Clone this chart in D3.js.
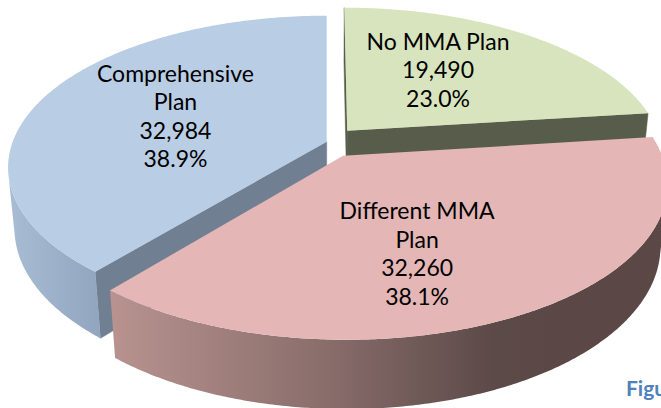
<!DOCTYPE html>
<meta charset="utf-8">
<style>
  body { margin: 0; background: #fff; }
  svg { display: block; }
  .label { font-family: Lato, "Open Sans", sans-serif; font-size: 23px; fill: #000; text-anchor: middle; }
  .caption { font-family: Lato, sans-serif; font-weight: bold; font-size: 21px; fill: #4f81bd; }
</style>
<script src="https://d3js.org/d3.v7.min.js"></script>
<body>
<script>
  // data
  var categories = ["No MMA Plan", "Different MMA Plan", "Comprehensive Plan"];
  var labelLines = [["No MMA Plan"], ["Different MMA", "Plan"], ["Comprehensive", "Plan"]];
  var values = [19490, 32260, 32984];

  // look of the 3d pie
  var explode = [0.1, 0.107, 0];
  var topColors = ["#d7e4bd", "#e4b6b5", "#b9cde4"];
  var cutColors = ["#585c4a", "#5c4a49", "#707f91"];
  // label shift from the face centroid, px
  var labelNudge = [[-27, 4], [-1, 20], [7, -8]];

  var W = 661, H = 408;
  var cx = 326.7, cy = 141.7;
  var tilt = 28 * Math.PI / 180, sinE = Math.sin(tilt), cosE = Math.cos(tilt);
  var dist = 5.2, depth = 0.223;
  var r = d3.scaleLinear().domain([0, 1]).range([0, 314]);

  var svg = d3.select("body").append("svg").attr("width", W).attr("height", H);
  var defs = svg.append("defs");

  function grad(id, x1, x2, stops) {
    var g = defs.append("linearGradient").attr("id", id)
      .attr("gradientUnits", "userSpaceOnUse")
      .attr("x1", x1).attr("x2", x2).attr("y1", 0).attr("y2", 0);
    stops.forEach(function(s) { g.append("stop").attr("offset", s[0]).attr("stop-color", s[1]); });
  }
  grad("side0", 330, 660, [[0, "#9aa383"], [1, "#585c4a"]]);
  grad("side1", 110, 560, [[0, "#b8938f"], [0.45, "#8c706e"], [0.85, "#5c4a48"], [1, "#5a4746"]]);
  grad("side2", 8, 110, [[0, "#a8bcd4"], [1, "#8fa3bc"]]);

  function proj(X, Y, Z) {
    var yp = Y * cosE + Z * sinE, zp = Z * cosE - Y * sinE, s = dist / (dist + zp);
    return [cx + r(X * s), cy - r(yp * s)];
  }
  var cam = [0, dist * sinE, -dist * cosE];

  var total = d3.sum(values);
  var pct = d3.format(".1%"), num = d3.format(",");
  var arcs = d3.pie().sort(null).value(function(d) { return d; })(values);

  arcs.forEach(function(a, i) {
    var mid = (a.startAngle + a.endAngle) / 2;
    a.ox = explode[i] * Math.sin(mid);
    a.oz = explode[i] * Math.cos(mid);
    a.zc = a.oz + 0.5 * Math.cos(mid);
    a.i = i;
  });

  function pt(a, th, rad, Y) {
    return proj(a.ox + rad * Math.sin(th), Y, a.oz + rad * Math.cos(th));
  }
  function facing(n, p) {
    return n[0] * (cam[0] - p[0]) + n[2] * (cam[2] - p[2]) > 0;
  }
  var line = d3.line();
  var step = Math.PI / 360;

  // far slices first
  var order = arcs.slice().sort(function(a, b) { return b.zc - a.zc; });

  order.forEach(function(a) {
    var i = a.i, g = svg.append("g");
    var a0 = a.startAngle, a1 = a.endAngle;

    // cut faces
    [[a0, [-Math.cos(a0), 0, Math.sin(a0)]], [a1, [Math.cos(a1), 0, -Math.sin(a1)]]].forEach(function(f) {
      var th = f[0], pm = [a.ox + 0.5 * Math.sin(th), 0, a.oz + 0.5 * Math.cos(th)];
      if (!facing(f[1], pm)) return;
      var poly = [pt(a, th, 0, 0), pt(a, th, 1, 0), pt(a, th, 1, -depth), pt(a, th, 0, -depth)];
      g.append("path").attr("d", line(poly) + "Z").attr("fill", cutColors[i])
        .attr("stroke", cutColors[i]).attr("stroke-width", 0.5);
    });

    // outer side, visible part only
    var vis = d3.range(a0, a1 + step / 2, step).filter(function(th) {
      var p = [a.ox + Math.sin(th), 0, a.oz + Math.cos(th)];
      return facing([Math.sin(th), 0, Math.cos(th)], p);
    });
    if (vis.length > 1) {
      var topArc = vis.map(function(th) { return pt(a, th, 1, 0); });
      var botArc = vis.slice().reverse().map(function(th) { return pt(a, th, 1, -depth); });
      g.append("path").attr("d", line(topArc.concat(botArc)) + "Z")
        .attr("fill", "url(#side" + i + ")");
    }

    // top face
    var ths = d3.range(a0, a1, step).concat([a1]);
    var topPoly = [pt(a, 0, 0, 0)].concat(ths.map(function(th) { return pt(a, th, 1, 0); }));
    g.append("path").attr("d", line(topPoly) + "Z").attr("fill", topColors[i]);
    a.centroid = d3.polygonCentroid(topPoly);
  });

  // labels
  var lh = 28.5;
  arcs.forEach(function(a, i) {
    var lines = labelLines[i].concat([num(values[i]), pct(values[i] / total)]);
    var lx = a.centroid[0] + labelNudge[i][0], ly = a.centroid[1] + labelNudge[i][1];
    var t = svg.append("text").attr("class", "label")
      .attr("x", lx)
      .attr("y", ly - (lines.length - 1) * lh / 2)
      .attr("dy", "0.35em");
    lines.forEach(function(l, j) {
      t.append("tspan").attr("x", lx).attr("dy", j ? lh : 0).text(l);
    });
  });

  svg.append("text").attr("class", "caption").attr("x", 626).attr("y", 396).text("Figure");
</script>
</body>
